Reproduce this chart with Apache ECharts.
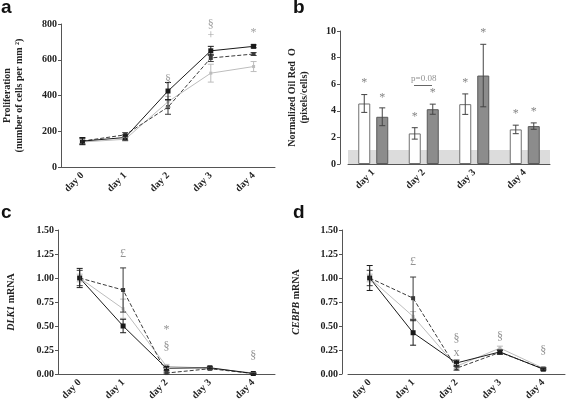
<!DOCTYPE html>
<html><head><meta charset="utf-8">
<script src="https://cdn.jsdelivr.net/npm/echarts@6/dist/echarts.min.js"></script>
<style>html,body{margin:0;padding:0;background:#fff}#c{width:567px;height:406px}</style>
</head><body><div id="c"></div>
<script>
// ---------- data ----------
const days = ['day 0','day 1','day 2','day 3','day 4'];
const daysB = ['day 1','day 2','day 3','day 4'];

// panel a: proliferation
const aBlack = [145, 165, 425, 650, 675];
const aBlackErr = [20, 15, 48, 25, 8];
const aDash = [145, 180, 335, 610, 632];
const aDashErr = [15, 12, 40, 20, 8];
const aGray = [140, 155, 365, 525, 562];
const aGrayErr = [15, 10, 30, 50, 28];
const aNotes = [['day 2', 490, '§'], ['day 3', 795, '§'], ['day 3', 735, '+'], ['day 4', 752, '*']];

// panel b: Oil Red O
const bWhite = [4.55, 2.3, 4.5, 2.6];
const bWhiteErr = [0.67, 0.43, 0.77, 0.32];
const bGray = [3.55, 4.12, 6.65, 2.85];
const bGrayErr = [0.67, 0.38, 2.35, 0.24];
const bBand = 1.05;
const bNotesWhite = [6.1, 3.55, 6.1, 3.75];
const bNotesGray = [4.95, 5.35, 9.85, 3.95];

// panel c: DLK1
const cBlack = [1.0, 0.50, 0.06, 0.065, 0.005];
const cBlackErr = [0.1, 0.07, 0.02, 0.01, 0.005];
const cDash = [1.0, 0.875, 0.01, 0.055, 0.005];
const cDashErr = [0.08, 0.23, 0.01, 0.01, 0.005];
const cGray = [1.0, 0.68, 0.08, 0.06, 0.01];
const cGrayErr = [0.04, 0.1, 0.02, 0.01, 0.005];
const cNotes = [['day 1', 1.25, '£'], ['day 2', 0.455, '*'], ['day 2', 0.28, '§'], ['day 4', 0.19, '§']];

// panel d: CEBPB
const dBlack = [1.0, 0.43, 0.115, 0.23, 0.05];
const dBlackErr = [0.13, 0.13, 0.03, 0.02, 0.01];
const dDash = [1.0, 0.79, 0.06, 0.225, 0.055];
const dDashErr = [0.08, 0.22, 0.02, 0.02, 0.01];
const dGray = [1.0, 0.6, 0.08, 0.27, 0.06];
const dGrayErr = [0.04, 0.05, 0.02, 0.02, 0.01];
const dNotes = [['day 1', 1.17, '£'], ['day 2', 0.37, '§'], ['day 2', 0.22, 'x'], ['day 3', 0.39, '§'], ['day 4', 0.24, '§']];

// ---------- styling ----------
const SERIF = '"Liberation Serif", "DejaVu Serif", serif';
const SANS = '"Liberation Sans", Arial, sans-serif';
const AX = '#555';
const BLACK = '#1a1a1a', DASH = '#3a3a3a', GRAY = '#bdbdbd';

const chart = echarts.init(document.getElementById('c'), null, {renderer: 'canvas'});

const grids = [
  {left: 58, top: 24, width: 217, height: 143},
  {left: 348, top: 31, width: 202, height: 133},
  {left: 58, top: 230, width: 217, height: 144},
  {left: 348, top: 230, width: 217, height: 144}
];

function xAx(idx, cats) {
  return {
    type: 'category', gridIndex: idx, data: cats, boundaryGap: true,
    axisLine: {lineStyle: {color: AX, width: 1}},
    axisTick: {alignWithLabel: true, length: 4, lineStyle: {color: AX}},
    axisLabel: {rotate: 45, fontFamily: SERIF, fontWeight: 'bold', fontSize: 10, color: '#222', margin: 7}
  };
}
function yAx(idx, min, max, interval, name, nameGap, offset, fmt, nameRich) {
  const o = {
    type: 'value', gridIndex: idx, min, max, interval, offset: offset || 0,
    name, nameLocation: 'middle', nameGap, nameRotate: 90,
    nameTextStyle: {fontFamily: SERIF, fontWeight: 'bold', fontSize: 10, color: '#222', lineHeight: 12},
    axisLine: {show: true, lineStyle: {color: AX}},
    axisTick: {show: true, length: 3, lineStyle: {color: AX}},
    splitLine: {show: false},
    axisLabel: {fontFamily: SERIF, fontWeight: 'bold', fontSize: 10, color: '#222', margin: 4, formatter: fmt}
  };
  if (nameRich) o.nameTextStyle.rich = nameRich;
  return o;
}

function lineSeries(idx, data, color, dashed, symSize) {
  return {
    type: 'line', xAxisIndex: idx, yAxisIndex: idx, data,
    symbol: 'rect', symbolSize: symSize, showSymbol: true,
    lineStyle: {color, width: 1, type: dashed ? [4, 2] : 'solid'},
    itemStyle: {color}, z: 3, animation: false
  };
}
function errSeries(idx, vals, errs, color, offset) {
  return {
    type: 'custom', xAxisIndex: idx, yAxisIndex: idx, z: 4, animation: false,
    data: vals.map((v, i) => [i, v, errs[i]]),
    renderItem: function (params, api) {
      const i = api.value(0), v = api.value(1), e = api.value(2);
      const t = api.coord([i, v + e]), b = api.coord([i, v - e]);
      const x = t[0] + (offset || 0), w = 3;
      const st = {stroke: color, lineWidth: 1};
      return {type: 'group', children: [
        {type: 'line', shape: {x1: x, y1: t[1], x2: x, y2: b[1]}, style: st},
        {type: 'line', shape: {x1: x - w, y1: t[1], x2: x + w, y2: t[1]}, style: st},
        {type: 'line', shape: {x1: x - w, y1: b[1], x2: x + w, y2: b[1]}, style: st}
      ]};
    }
  };
}
function noteSeries(idx, notes, color, offset) {
  return {
    type: 'scatter', xAxisIndex: idx, yAxisIndex: idx, symbolSize: 1, z: 6, animation: false,
    itemStyle: {color: 'rgba(0,0,0,0)'},
    data: notes.map(n => ({value: [n[0], n[1]], t: n[2]})),
    label: {show: true, position: 'inside', offset: [offset || 0, 0], formatter: p => p.data.t,
      fontFamily: SERIF, fontSize: 12, color: color}
  };
}

const series = [];
// a
series.push(lineSeries(0, aGray, GRAY, false, 3), lineSeries(0, aDash, DASH, true, 4), lineSeries(0, aBlack, BLACK, false, 5));
series.push(errSeries(0, aGray, aGrayErr, GRAY), errSeries(0, aDash, aDashErr, DASH), errSeries(0, aBlack, aBlackErr, BLACK));
series.push(noteSeries(0, aNotes, '#888'));
// b
series.push({
  type: 'bar', xAxisIndex: 1, yAxisIndex: 1, data: [], silent: true, z: 1,
  markArea: {silent: true, itemStyle: {color: '#dcdcdc'}, data: [[{yAxis: 0}, {yAxis: bBand}]]}
});
series.push({
  type: 'bar', xAxisIndex: 1, yAxisIndex: 1, data: bWhite, barWidth: 12, barGap: '50%', z: 2,
  itemStyle: {color: '#ffffff', borderColor: '#707070', borderWidth: 1}, animation: false
});
series.push({
  type: 'bar', xAxisIndex: 1, yAxisIndex: 1, data: bGray, barWidth: 12, barGap: '50%', z: 2,
  itemStyle: {color: '#8c8c8c', borderColor: '#5a5a5a', borderWidth: 1}, animation: false
});
series.push(errSeries(1, bWhite, bWhiteErr, '#444', -9), errSeries(1, bGray, bGrayErr, '#444', 9));
series.push(noteSeries(1, daysB.map((d, i) => [d, bNotesWhite[i], '*']), '#666', -9));
series.push(noteSeries(1, daysB.map((d, i) => [d, bNotesGray[i], '*']), '#666', 9));
series.push({
  type: 'scatter', xAxisIndex: 1, yAxisIndex: 1, symbolSize: 1, z: 6, animation: false,
  itemStyle: {color: 'rgba(0,0,0,0)'},
  data: [{value: ['day 2', 6.45], t: 'p=0.08'}],
  label: {show: true, position: 'inside', formatter: p => p.data.t, fontFamily: SERIF, fontSize: 9, color: '#777'},
  markLine: {silent: true, symbol: 'none', animation: false, label: {show: false},
    lineStyle: {color: '#666', type: 'solid', width: 1},
    data: [[{coord: ['day 2', 5.9], x: 414}, {coord: ['day 2', 5.9], x: 432}]]}
});
// c
series.push(lineSeries(2, cGray, GRAY, false, 3), lineSeries(2, cDash, DASH, true, 4), lineSeries(2, cBlack, BLACK, false, 5));
series.push(errSeries(2, cGray, cGrayErr, GRAY), errSeries(2, cDash, cDashErr, DASH), errSeries(2, cBlack, cBlackErr, BLACK));
series.push(noteSeries(2, cNotes, '#777'));
// d
series.push(lineSeries(3, dGray, GRAY, false, 3), lineSeries(3, dDash, DASH, true, 4), lineSeries(3, dBlack, BLACK, false, 5));
series.push(errSeries(3, dGray, dGrayErr, GRAY), errSeries(3, dDash, dDashErr, DASH), errSeries(3, dBlack, dBlackErr, BLACK));
series.push(noteSeries(3, dNotes, '#777'));

const fmt2 = v => v.toFixed(2);
const italicRich = {
  i: {fontFamily: SERIF, fontStyle: 'italic', fontWeight: 'bold', fontSize: 10, color: '#222'},
  n: {fontFamily: SERIF, fontWeight: 'bold', fontSize: 10, color: '#222'}
};
const titleStyle = {fontFamily: SANS, fontWeight: 'bold', fontSize: 19, color: '#111'};

const option = {
  animation: false,
  grid: grids,
  xAxis: [xAx(0, days), xAx(1, daysB), xAx(2, days), xAx(3, days)],
  yAxis: [
    yAx(0, 0, 800, 200, 'Proliferation\n(number of cells per mm \u00B2)', 36, 0),
    yAx(1, 0, 10, 2, 'Normalized Oil Red  O\n(pixels/cells)', 30, 8),
    yAx(2, 0, 1.5, 0.25, '{i|DLK1} {n|mRNA}', 41, 0, fmt2, italicRich),
    yAx(3, 0, 1.5, 0.25, '{i|CEBPB} {n|mRNA}', 40, 6, fmt2, italicRich)
  ],
  title: [
    {text: 'a', left: 1, top: -2, padding: 0, textStyle: titleStyle},
    {text: 'b', left: 293, top: -2, padding: 0, textStyle: titleStyle},
    {text: 'c', left: 1, top: 203, padding: 0, textStyle: titleStyle},
    {text: 'd', left: 293, top: 203, padding: 0, textStyle: titleStyle}
  ],
  series
};
chart.setOption(option);
</script></body></html>
